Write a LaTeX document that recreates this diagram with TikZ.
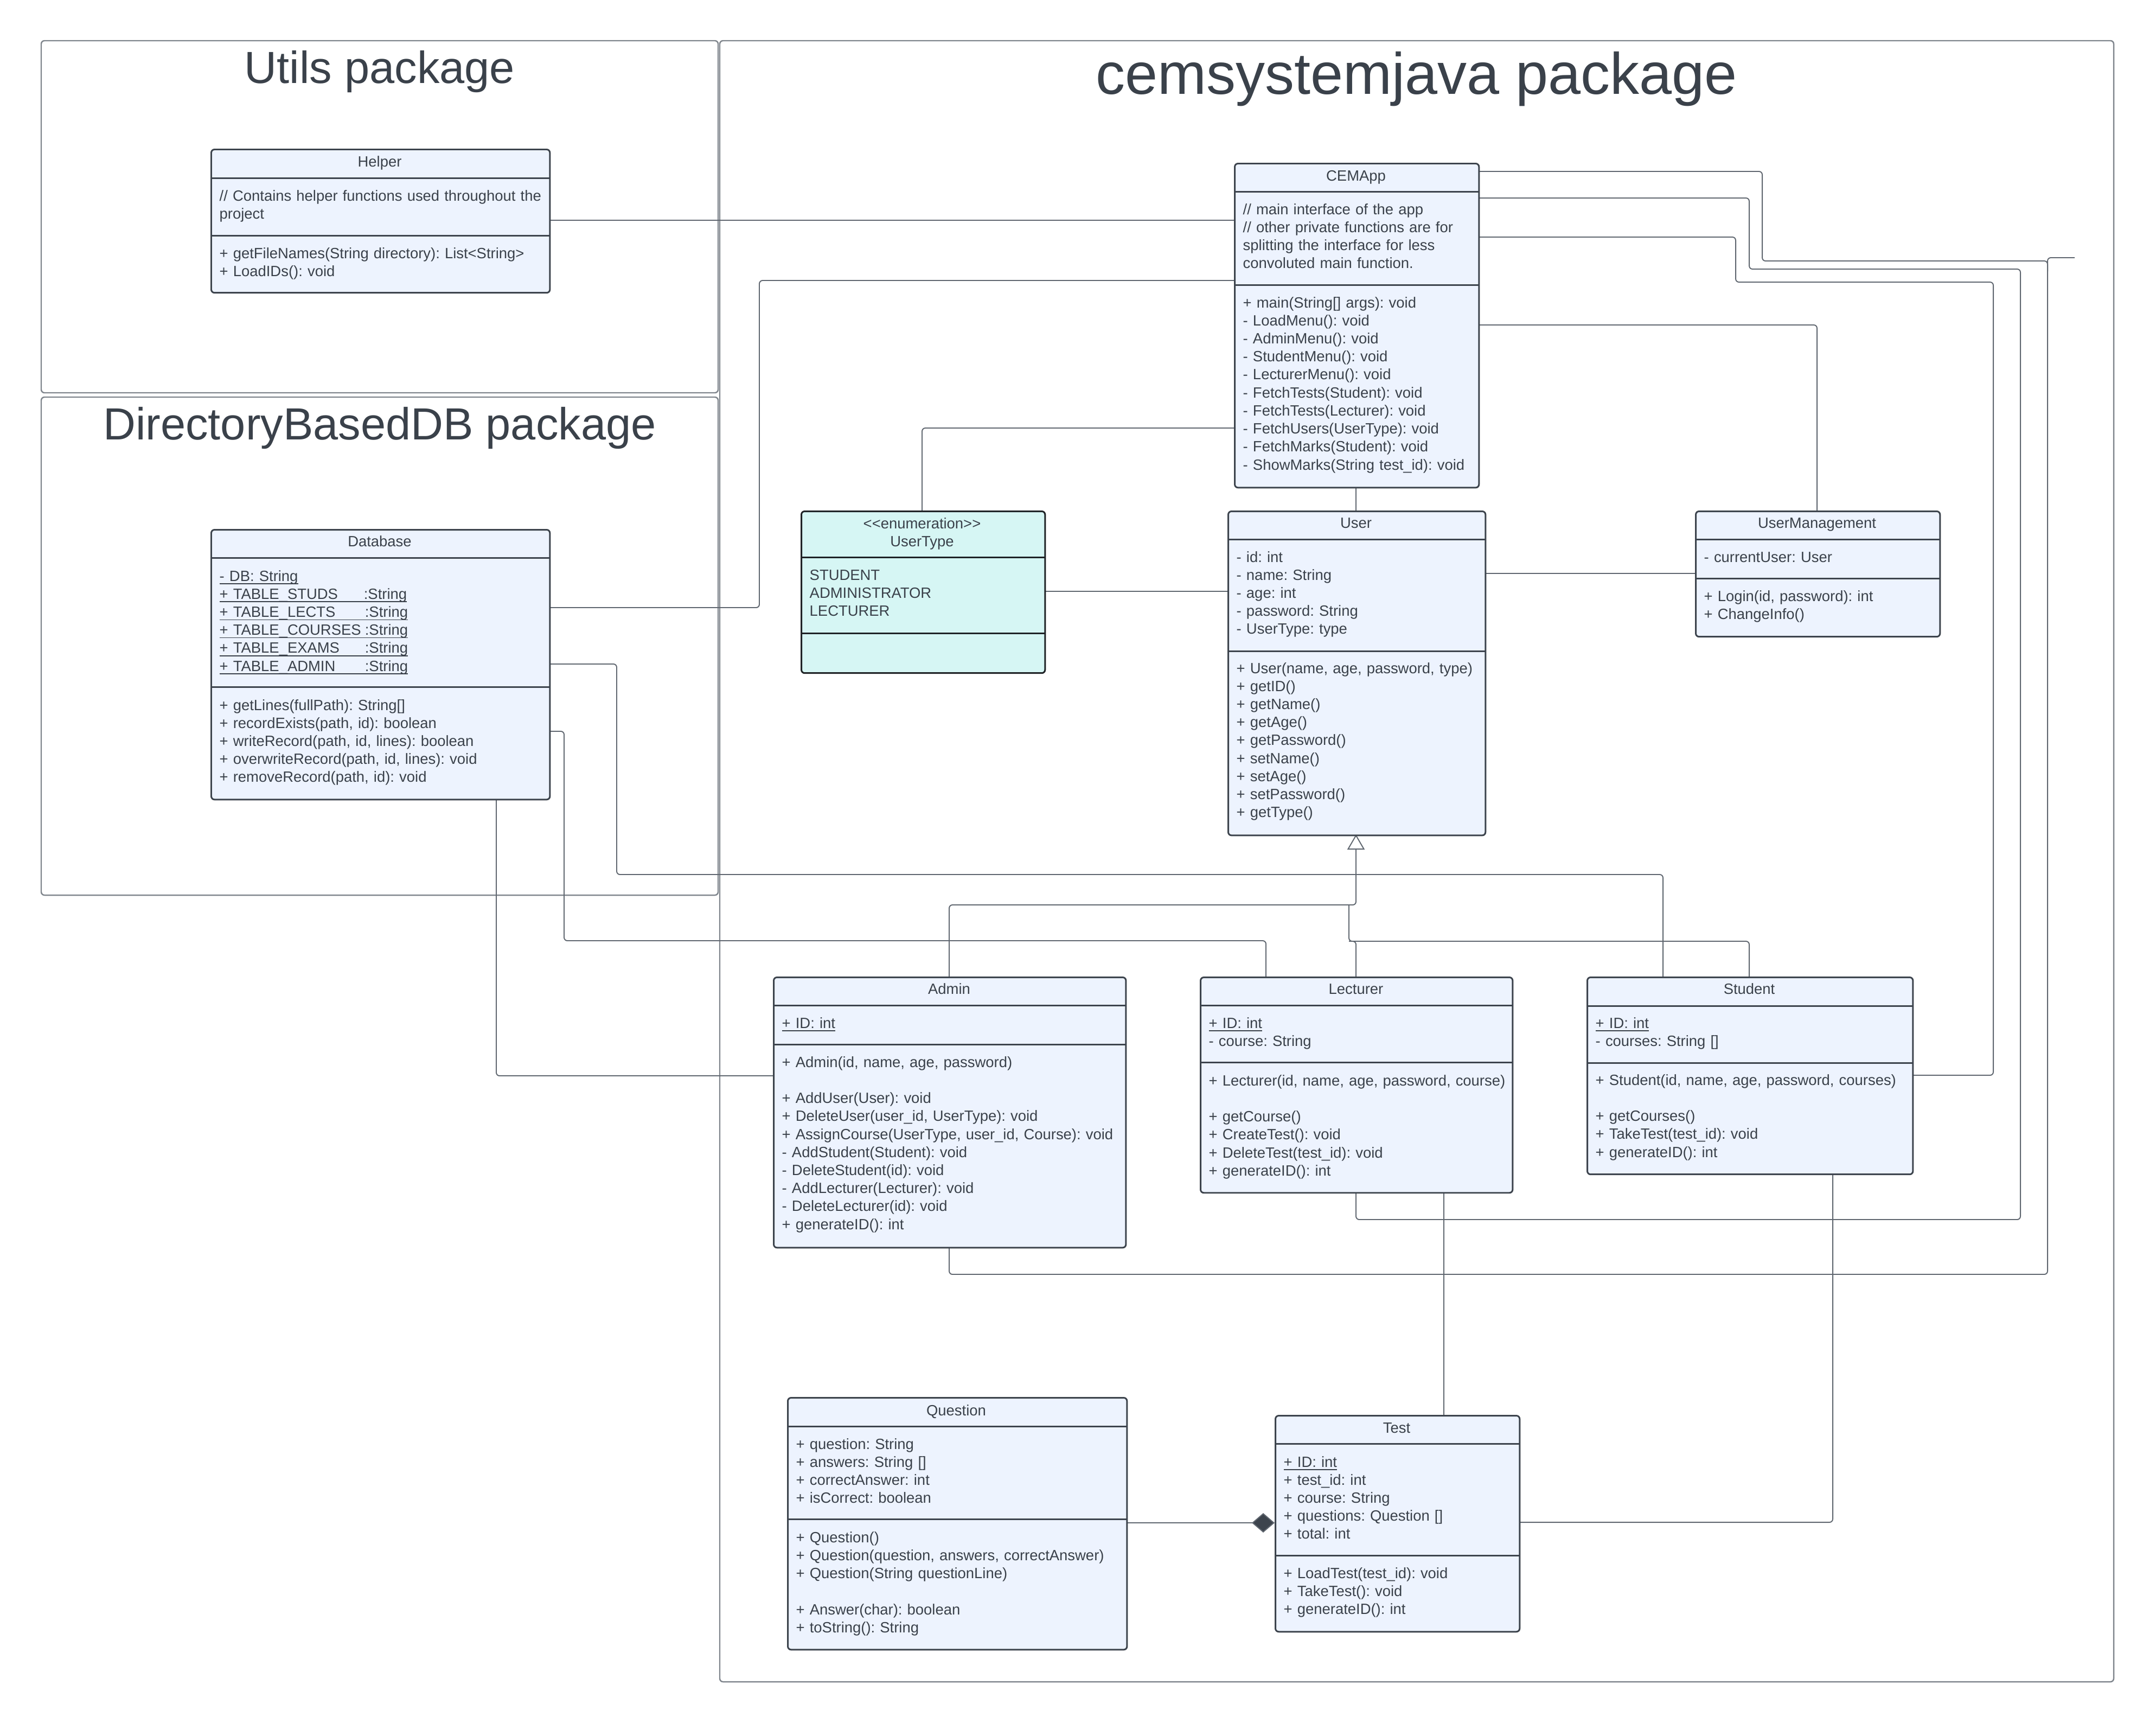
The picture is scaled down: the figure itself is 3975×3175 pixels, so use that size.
\documentclass[tikz,border=0pt]{standalone}
\usepackage{fontspec}
\setmainfont{Liberation Sans}
\usetikzlibrary{arrows.meta}
\definecolor{boxfill}{HTML}{EDF3FE}
\definecolor{borderc}{HTML}{3D444D}
\definecolor{linec}{HTML}{5F666F}
\definecolor{framec}{HTML}{80868D}
\definecolor{textc}{HTML}{3A414A}
\definecolor{enumfill}{HTML}{D6F6F4}
\definecolor{enumborder}{HTML}{1F2326}
\newcommand\ulx[1]{\underline{\smash{#1}}}
\tikzset{
  cls/.style={draw=borderc, fill=boxfill, line width=0.85pt, rounded corners=0.06cm, inner sep=0pt, anchor=north west},
  enumcls/.style={cls, draw=enumborder, fill=enumfill},
  divider/.style={draw=borderc, line width=0.85pt},
  enumdiv/.style={draw=enumborder, line width=0.85pt},
  txt/.style={font=\fontsize{7.8}{9.45}\selectfont\frenchspacing, text=textc, inner sep=0pt, anchor=base west, align=left, text width=8cm},
  ttl/.style={font=\fontsize{7.8}{9.45}\selectfont\frenchspacing, text=textc, inner sep=0pt, anchor=base},
  pkg/.style={draw=framec, line width=0.7pt, rounded corners=0.06cm},
  pkgtitle/.style={text=textc, inner sep=0pt, anchor=base},
  conn/.style={draw=linec, line width=0.55pt, rounded corners=0.06cm},
  gen/.style={conn, -{Triangle[length=0.28cm,width=0.32cm,fill=white]}},
  comp/.style={conn, -{Diamond[length=0.42cm,width=0.36cm,fill=borderc]}},
}
\begin{document}
\frenchspacing
\begin{tikzpicture}[x=0.01cm,y=-0.01cm]
\useasboundingbox (0,0) rectangle (3975,3175);

% packages
\draw[pkg] (76,75) rectangle (1324,724);
\draw[pkg] (76,732) rectangle (1324,1650);
\draw[pkg] (1327,75) rectangle (3897,3100);
\node[pkgtitle, font=\fontsize{23.6}{28}\selectfont] (utilsT) at (700,153) {Utils package};
\node[pkgtitle, font=\fontsize{23.6}{28}\selectfont] (dbT) at (700,810) {DirectoryBasedDB package};
\node[pkgtitle, font=\fontsize{30.7}{36}\selectfont] (cemT) at (2612,173) {cemsystemjava package};

% ---------- connectors ----------
\coordinate (stub) at (3825,475);
\draw[conn] (388,406) -- (2275,406);
\draw[conn] (1012,1120) -- (1400,1120) -- (1400,517) -- (2275,517);
\draw[conn] (1012,1224) -- (1137,1224) -- (1137,1612) -- (3066,1612) -- (3066,1800);
\draw[conn] (1012,1348) -- (1040,1348) -- (1040,1734) -- (2334,1734) -- (2334,1800);
\draw[conn] (915,1472) -- (915,1983) -- (1425,1983);
\draw[conn] (1700,941) -- (1700,789) -- (2275,789);
\draw[conn] (1925,1090) -- (2263,1090);
\draw[conn] (2500,941) -- (2500,897);
\draw[conn] (2737,1057) -- (3125,1057);
\draw[conn] (2725,599) -- (3350,599) -- (3350,941);
\draw[conn] (2725,316) -- (3249,316) -- (3249,481) -- (3775,481) -- (3775,2349) -- (1750,2349) -- (1750,2298);
\draw[conn] (3775,500) -- (3775,475) -- (stub);
\draw[conn] (2725,365) -- (3225,365) -- (3225,496) -- (3725,496) -- (3725,2248) -- (2500,2248) -- (2500,2197);
\draw[conn] (2725,437) -- (3200,437) -- (3200,520) -- (3675,520) -- (3675,1982) -- (3525,1982);
\draw[conn] (2662,2197) -- (2662,2608);
\draw[conn] (3379,2163) -- (3379,2806) -- (2800,2806);
\draw[conn] (2487,1668) -- (2487,1735) -- (2500,1735) -- (2500,1800);
\draw[conn] (3225,1800) -- (3225,1735) -- (2487,1735);
\draw[gen] (1750,1800) -- (1750,1668) -- (2500,1668) -- (2500,1538);
\draw[comp] (2076,2807) -- (2350,2807);

% ---------- Helper ----------
\node[cls, minimum width=6.24cm, minimum height=2.64cm] (helper) at (388,274) {};
\draw[divider] (helper.west |- 0,328) -- (helper.east |- 0,328);
\draw[divider] (helper.west |- 0,434) -- (helper.east |- 0,434);
\node[ttl] (helper-t) at (700,307) {Helper};
\node[txt] (helper-a) at (404,370) {// Contains helper functions used throughout the\\project};
\node[txt] (helper-m) at (404,476) {+ getFileNames(String directory): List<String>\\+ LoadIDs(): void};

% ---------- Database ----------
\node[cls, minimum width=6.24cm, minimum height=4.97cm] (database) at (388,975) {};
\draw[divider] (database.west |- 0,1028) -- (database.east |- 0,1028);
\draw[divider] (database.west |- 0,1266) -- (database.east |- 0,1266);
\node[ttl] (database-t) at (700,1007) {Database};
\node[txt] (database-a) at (404,1071) {\ulx{- DB: String}\\
\ulx{\makebox[2.66cm][l]{+ TABLE\_STUDS}:String}\\
\ulx{\makebox[2.68cm][l]{+ TABLE\_LECTS}:String}\\
\ulx{\makebox[2.68cm][l]{+ TABLE\_COURSES }:String}\\
\ulx{\makebox[2.68cm][l]{+ TABLE\_EXAMS}:String}\\
\ulx{\makebox[2.68cm][l]{+ TABLE\_ADMIN}:String}};
\node[txt] (database-m) at (404,1309) {+ getLines(fullPath): String[]\\+ recordExists(path, id): boolean\\+ writeRecord(path, id, lines): boolean\\+ overwriteRecord(path, id, lines): void\\+ removeRecord(path, id): void};

% ---------- CEMApp ----------
\node[cls, minimum width=4.5cm, minimum height=5.97cm] (cemapp) at (2275,300) {};
\draw[divider] (cemapp.west |- 0,353) -- (cemapp.east |- 0,353);
\draw[divider] (cemapp.west |- 0,525) -- (cemapp.east |- 0,525);
\node[ttl] (cemapp-t) at (2500,333) {CEMApp};
\node[txt] (cemapp-a) at (2291,395) {// main interface of the app\\// other private functions are for\\splitting the interface for less\\convoluted main function.};
\node[txt] (cemapp-m) at (2291,567) {+ main(String[] args): void\\- LoadMenu(): void\\- AdminMenu(): void\\- StudentMenu(): void\\- LecturerMenu(): void\\- FetchTests(Student): void\\- FetchTests(Lecturer): void\\- FetchUsers(UserType): void\\- FetchMarks(Student): void\\- ShowMarks(String test\_id): void};

% ---------- UserType ----------
\node[enumcls, minimum width=4.49cm, minimum height=2.98cm] (usertype) at (1476,941) {};
\draw[enumdiv] (usertype.west |- 0,1027) -- (usertype.east |- 0,1027);
\draw[enumdiv] (usertype.west |- 0,1167) -- (usertype.east |- 0,1167);
\node[ttl] (usertype-s) at (1700,974) {<{}<enumeration>{}>};
\node[ttl] (usertype-t) at (1700,1007) {UserType};
\node[txt] (usertype-a) at (1492,1069) {STUDENT\\ADMINISTRATOR\\LECTURER};

% ---------- User ----------
\node[cls, minimum width=4.74cm, minimum height=5.97cm] (user) at (2263,941) {};
\draw[divider] (user.west |- 0,994) -- (user.east |- 0,994);
\draw[divider] (user.west |- 0,1200) -- (user.east |- 0,1200);
\node[ttl] (user-t) at (2500,973) {User};
\node[txt] (user-a) at (2279,1036) {- id: int\\- name: String\\- age: int\\- password: String\\- UserType: type};
\node[txt] (user-m) at (2279,1241) {+ User(name, age, password, type)\\+ getID()\\+ getName()\\+ getAge()\\+ getPassword()\\+ setName()\\+ setAge()\\+ setPassword()\\+ getType()};

% ---------- UserManagement ----------
\node[cls, minimum width=4.5cm, minimum height=2.31cm] (usermgmt) at (3125,941) {};
\draw[divider] (usermgmt.west |- 0,994) -- (usermgmt.east |- 0,994);
\draw[divider] (usermgmt.west |- 0,1066) -- (usermgmt.east |- 0,1066);
\node[ttl] (usermgmt-t) at (3350,973) {UserManagement};
\node[txt] (usermgmt-a) at (3141,1036) {- currentUser: User};
\node[txt] (usermgmt-m) at (3141,1108) {+ Login(id, password): int\\+ ChangeInfo()};

% ---------- Admin ----------
\node[cls, minimum width=6.49cm, minimum height=4.98cm] (admin) at (1425,1800) {};
\draw[divider] (admin.west |- 0,1853) -- (admin.east |- 0,1853);
\draw[divider] (admin.west |- 0,1925) -- (admin.east |- 0,1925);
\node[ttl] (admin-t) at (1750,1832) {Admin};
\node[txt] (admin-a) at (1441,1895) {\ulx{+ ID: int}};
\node[txt] (admin-m) at (1441,1967) {+ Admin(id, name, age, password)\\[0.333cm]+ AddUser(User): void\\+ DeleteUser(user\_id, UserType): void\\+ AssignCourse(UserType, user\_id, Course): void\\- AddStudent(Student): void\\- DeleteStudent(id): void\\- AddLecturer(Lecturer): void\\- DeleteLecturer(id): void\\+ generateID(): int};

% ---------- Lecturer ----------
\node[cls, minimum width=5.75cm, minimum height=3.97cm] (lecturer) at (2212,1800) {};
\draw[divider] (lecturer.west |- 0,1853) -- (lecturer.east |- 0,1853);
\draw[divider] (lecturer.west |- 0,1958) -- (lecturer.east |- 0,1958);
\node[ttl] (lecturer-t) at (2500,1832) {Lecturer};
\node[txt] (lecturer-a) at (2228,1895) {\ulx{+ ID: int}\\- course: String};
\node[txt] (lecturer-m) at (2228,2001) {+ Lecturer(id, name, age, password, course)\\[0.333cm]+ getCourse()\\+ CreateTest(): void\\+ DeleteTest(test\_id): void\\+ generateID(): int};

% ---------- Student ----------
\node[cls, minimum width=6cm, minimum height=3.63cm] (student) at (2925,1800) {};
\draw[divider] (student.west |- 0,1854) -- (student.east |- 0,1854);
\draw[divider] (student.west |- 0,1959) -- (student.east |- 0,1959);
\node[ttl] (student-t) at (3225,1832) {Student};
\node[txt] (student-a) at (2941,1895) {\ulx{+ ID: int}\\- courses: String []};
\node[txt] (student-m) at (2941,2000) {+ Student(id, name, age, password, courses)\\[0.333cm]+ getCourses()\\+ TakeTest(test\_id): void\\+ generateID(): int};

% ---------- Test ----------
\node[cls, minimum width=4.5cm, minimum height=3.98cm] (test) at (2350,2608) {};
\draw[divider] (test.west |- 0,2661) -- (test.east |- 0,2661);
\draw[divider] (test.west |- 0,2867) -- (test.east |- 0,2867);
\node[ttl] (test-t) at (2575,2641) {Test};
\node[txt] (test-a) at (2366,2704) {\ulx{+ ID: int}\\+ test\_id: int\\+ course: String\\+ questions: Question []\\+ total: int};
\node[txt] (test-m) at (2366,2909) {+ LoadTest(test\_id): void\\+ TakeTest(): void\\+ generateID(): int};

% ---------- Question ----------
\node[cls, minimum width=6.25cm, minimum height=4.64cm] (question) at (1451,2575) {};
\draw[divider] (question.west |- 0,2629) -- (question.east |- 0,2629);
\draw[divider] (question.west |- 0,2800) -- (question.east |- 0,2800);
\node[ttl] (question-t) at (1763,2609) {Question};
\node[txt] (question-a) at (1467,2671) {+ question: String\\+ answers: String []\\+ correctAnswer: int\\+ isCorrect: boolean};
\node[txt] (question-m) at (1467,2843) {+ Question()\\+ Question(question, answers, correctAnswer)\\+ Question(String questionLine)\\[0.333cm]+ Answer(char): boolean\\+ toString(): String};

\end{tikzpicture}
\end{document}
